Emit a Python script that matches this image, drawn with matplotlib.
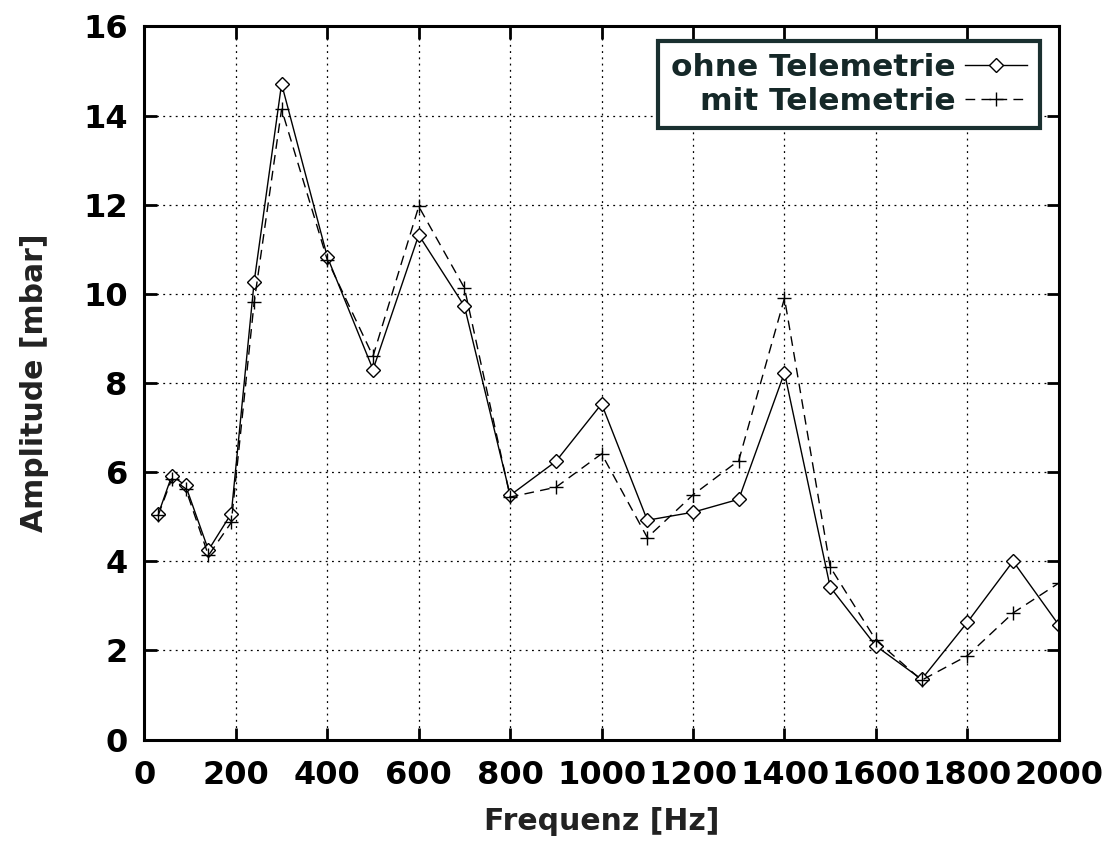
import matplotlib
matplotlib.use("Agg")
import matplotlib.pyplot as plt

# Messfrequenzen [Hz]
freq = [30, 60, 90, 140, 190, 240, 300, 400, 500, 600, 700, 800, 900, 1000,
        1100, 1200, 1300, 1400, 1500, 1600, 1700, 1800, 1900, 2000]

# Amplituden [mbar]
ohne_telemetrie = [5.05, 5.92, 5.70, 4.25, 5.07, 10.27, 14.71, 10.83, 8.30, 11.32,
                   9.72, 5.48, 6.24, 7.53, 4.92, 5.10, 5.39, 8.23, 3.42, 2.10,
                   1.35, 2.63, 4.00, 2.57]
mit_telemetrie = [5.03, 5.85, 5.63, 4.13, 4.87, 9.81, 14.14, 10.76, 8.60, 11.96,
                  10.13, 5.44, 5.66, 6.41, 4.53, 5.49, 6.26, 9.90, 3.87, 2.23,
                  1.33, 1.88, 2.84, 3.51]

x_ticks = list(range(0, 2001, 200))
y_ticks = list(range(0, 17, 2))

plt.rcParams["font.family"] = ["DejaVu Sans"]
plt.rcParams["font.weight"] = "bold"

fig = plt.figure(figsize=(11.11, 8.51), dpi=100)
ax = fig.add_axes([0.130, 0.131, 0.823, 0.838])

ax.plot(freq, ohne_telemetrie, color="black", linewidth=1.0, linestyle="-",
        marker="D", markersize=7.5, markerfacecolor="white",
        markeredgecolor="black", markeredgewidth=1.0, label="ohne Telemetrie")
ax.plot(freq, mit_telemetrie, color="black", linewidth=1.0,
        linestyle=(0, (7, 4.5)), marker="+", markersize=10,
        markeredgewidth=1.0, label="mit Telemetrie")

ax.set_xlim(0, 2000)
ax.set_ylim(0, 16)
ax.set_xticks(x_ticks)
ax.set_yticks(y_ticks)

ax.grid(True, color="black", linestyle=(0, (1.5, 3.5)), linewidth=0.9)
ax.set_axisbelow(True)

ax.tick_params(axis="both", which="major", direction="in", length=9, width=2,
               top=True, right=True, labelsize=23, labelcolor="black")
ax.tick_params(axis="y", pad=12)
ax.tick_params(axis="x", pad=15)
for lbl in ax.get_xticklabels() + ax.get_yticklabels():
    lbl.set_fontweight("bold")

for sp in ax.spines.values():
    sp.set_linewidth(2.2)
    sp.set_color("black")

ax.set_xlabel("Frequenz [Hz]", fontsize=21.5, fontweight="bold", color="#222222")
ax.set_ylabel("Amplitude [mbar]", fontsize=21.5, fontweight="bold", color="#222222")
ax.xaxis.set_label_coords(0.5, -0.094)
ax.yaxis.set_label_coords(-0.104, 0.5)

leg = ax.legend(loc="upper right", bbox_to_anchor=(0.979, 0.980),
                borderaxespad=0, markerfirst=False, fontsize=22.5,
                handlelength=2.0, handletextpad=0.3, borderpad=0.4,
                labelspacing=0.15, fancybox=False, framealpha=1.0,
                edgecolor="#1a3030")
leg.get_frame().set_linewidth(3)
for t in leg.get_texts():
    t.set_color("#152828")
    t.set_fontweight("bold")
    t.set_ha("right")
leg._legend_box.align = "right"

fig.savefig("out.png", dpi=100, facecolor="white")
